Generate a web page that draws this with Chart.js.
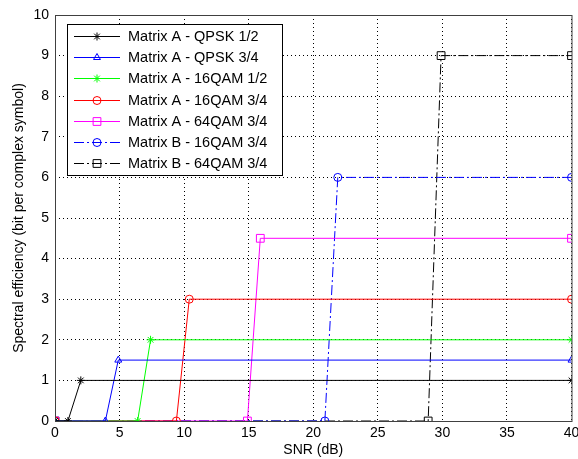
<!DOCTYPE html>
<html>
<head>
<meta charset="utf-8">
<script src="https://cdn.jsdelivr.net/npm/chart.js@4.4.0/dist/chart.umd.min.js"></script>
<style>
  html, body { margin: 0; padding: 0; background: #fff; }
  #wrap { width: 578px; height: 459px; }
</style>
</head>
<body>
<div id="wrap"><canvas id="grafico" width="578" height="459"></canvas></div>
<script>
// === DADOS ===
const qpsk12X = [0, 1, 2, 40];
const qpsk12Y = [0, 0, 1, 1];
const qpsk34X = [0, 3.9, 4.9, 40];
const qpsk34Y = [0, 0, 1.5, 1.5];
const qam16_12X = [0, 6.4, 7.4, 40];
const qam16_12Y = [0, 0, 2, 2];
const qam16_34X = [0, 9.4, 10.4, 40];
const qam16_34Y = [0, 0, 3, 3];
const qam64_34X = [0, 14.9, 15.9, 40];
const qam64_34Y = [0, 0, 4.5, 4.5];
const bQam16_34X = [0, 20.9, 21.9, 40];
const bQam16_34Y = [0, 0, 6, 6];
const bQam64_34X = [0, 28.9, 29.9, 40];
const bQam64_34Y = [0, 0, 9, 9];

const xTicks = [0, 5, 10, 15, 20, 25, 30, 35, 40];
const yTicks = [0, 1, 2, 3, 4, 5, 6, 7, 8, 9, 10];

const FONTE = '"Liberation Sans", Arial, sans-serif';
const dashDot = [10, 3, 2, 3];

function pts(xs, ys) {
  return xs.map((x, i) => ({ x: x, y: ys[i] }));
}

function serie(label, xs, ys, cor, estilo, dash) {
  return {
    label: label,
    data: pts(xs, ys),
    borderColor: cor,
    backgroundColor: 'rgba(0,0,0,0)',
    pointBorderColor: cor,
    pointBackgroundColor: 'rgba(0,0,0,0)',
    pointStyle: estilo,
    pointRadius: estilo === 'rect' ? 5.5 : 4,
    pointBorderWidth: 1,
    borderWidth: 1,
    borderDash: dash || [],
    tension: 0,
    fill: false
  };
}

const datasets = [
  serie('Matrix A - QPSK 1/2', qpsk12X, qpsk12Y, '#000000', 'star'),
  serie('Matrix A - QPSK 3/4', qpsk34X, qpsk34Y, '#0000ff', 'triangle'),
  serie('Matrix A - 16QAM 1/2', qam16_12X, qam16_12Y, '#00ff00', 'star'),
  serie('Matrix A - 16QAM 3/4', qam16_34X, qam16_34Y, '#ff0000', 'circle'),
  serie('Matrix A - 64QAM 3/4', qam64_34X, qam64_34Y, '#ff00ff', 'rect'),
  serie('Matrix B - 16QAM 3/4', bQam16_34X, bQam16_34Y, '#0000ff', 'circle', dashDot),
  serie('Matrix B - 64QAM 3/4', bQam64_34X, bQam64_34Y, '#000000', 'rect', dashDot)
];

// === MOLDURA DO GRÁFICO ===
const moldura = {
  id: 'moldura',
  afterDatasetsDraw(chart) {
    const a = chart.chartArea;
    const ctx = chart.ctx;
    ctx.save();
    ctx.strokeStyle = '#404040';
    ctx.lineWidth = 1;
    ctx.strokeRect(a.left + 0.5, a.top + 0.5, a.right - a.left, a.bottom - a.top);
    ctx.restore();
  }
};

// === LEGENDA DENTRO DO GRÁFICO ===
const legendaInterna = {
  id: 'legendaInterna',
  afterDraw(chart) {
    const ctx = chart.ctx;
    const x0 = 67, y0 = 24, w = 215, h = 151;
    const passo = 21.2;
    ctx.save();
    ctx.fillStyle = '#fff';
    ctx.fillRect(x0, y0, w, h);
    ctx.strokeStyle = '#000';
    ctx.lineWidth = 1;
    ctx.strokeRect(x0 + 0.5, y0 + 0.5, w, h);
    chart.data.datasets.forEach((ds, i) => {
      const y = Math.round(36 + i * passo) + 0.5;
      ctx.strokeStyle = ds.borderColor;
      ctx.fillStyle = 'rgba(0,0,0,0)';
      ctx.lineWidth = 1;
      ctx.setLineDash(ds.borderDash);
      ctx.beginPath();
      ctx.moveTo(74, y);
      ctx.lineTo(120, y);
      ctx.stroke();
      ctx.setLineDash([]);
      Chart.helpers.drawPoint(ctx, {
        pointStyle: ds.pointStyle, radius: ds.pointRadius, borderWidth: 1
      }, 97, y);
      ctx.fillStyle = '#000';
      ctx.font = '14.5px ' + FONTE;
      ctx.textBaseline = 'middle';
      ctx.fillText(ds.label, 128, y);
    });
    ctx.restore();
  }
};

// === GRÁFICO ===
const ctx = document.getElementById('grafico').getContext('2d');
new Chart(ctx, {
  type: 'line',
  data: { datasets: datasets },
  options: {
    responsive: false,
    animation: false,
    layout: { padding: { top: 15, right: 3, left: 0, bottom: 0 } },
    plugins: {
      legend: { display: false },
      tooltip: { enabled: false }
    },
    scales: {
      x: {
        type: 'linear',
        min: 0,
        max: 40,
        afterFit(scale) {
          scale.height = 38;
          scale.paddingLeft = 0;
          scale.paddingRight = 0;
        },
        afterBuildTicks(scale) { scale.ticks = xTicks.map(v => ({ value: v })); },
        grid: { color: '#000', drawTicks: false, lineWidth: 1 },
        border: { display: false, dash: [1, 3] },
        ticks: { color: '#000', font: { family: FONTE, size: 14 }, padding: 4, maxRotation: 0 },
        title: {
          display: true, text: 'SNR (dB)', color: '#000',
          font: { family: FONTE, size: 14 }, padding: { top: 0, bottom: 0 }
        }
      },
      y: {
        type: 'linear',
        min: 0,
        max: 10,
        afterFit(scale) {
          scale.width = 55;
          scale.paddingTop = 0;
          scale.paddingBottom = 0;
        },
        afterBuildTicks(scale) { scale.ticks = yTicks.map(v => ({ value: v })); },
        grid: { color: '#000', drawTicks: false, lineWidth: 1 },
        border: { display: false, dash: [1, 3] },
        ticks: { color: '#000', font: { family: FONTE, size: 14 }, padding: 6 },
        title: {
          display: true, text: 'Spectral efficiency (bit per complex symbol)', color: '#000',
          font: { family: FONTE, size: 14 }, padding: { top: 11, bottom: 0 }
        }
      }
    }
  },
  plugins: [moldura, legendaInterna]
});
</script>
</body>
</html>
